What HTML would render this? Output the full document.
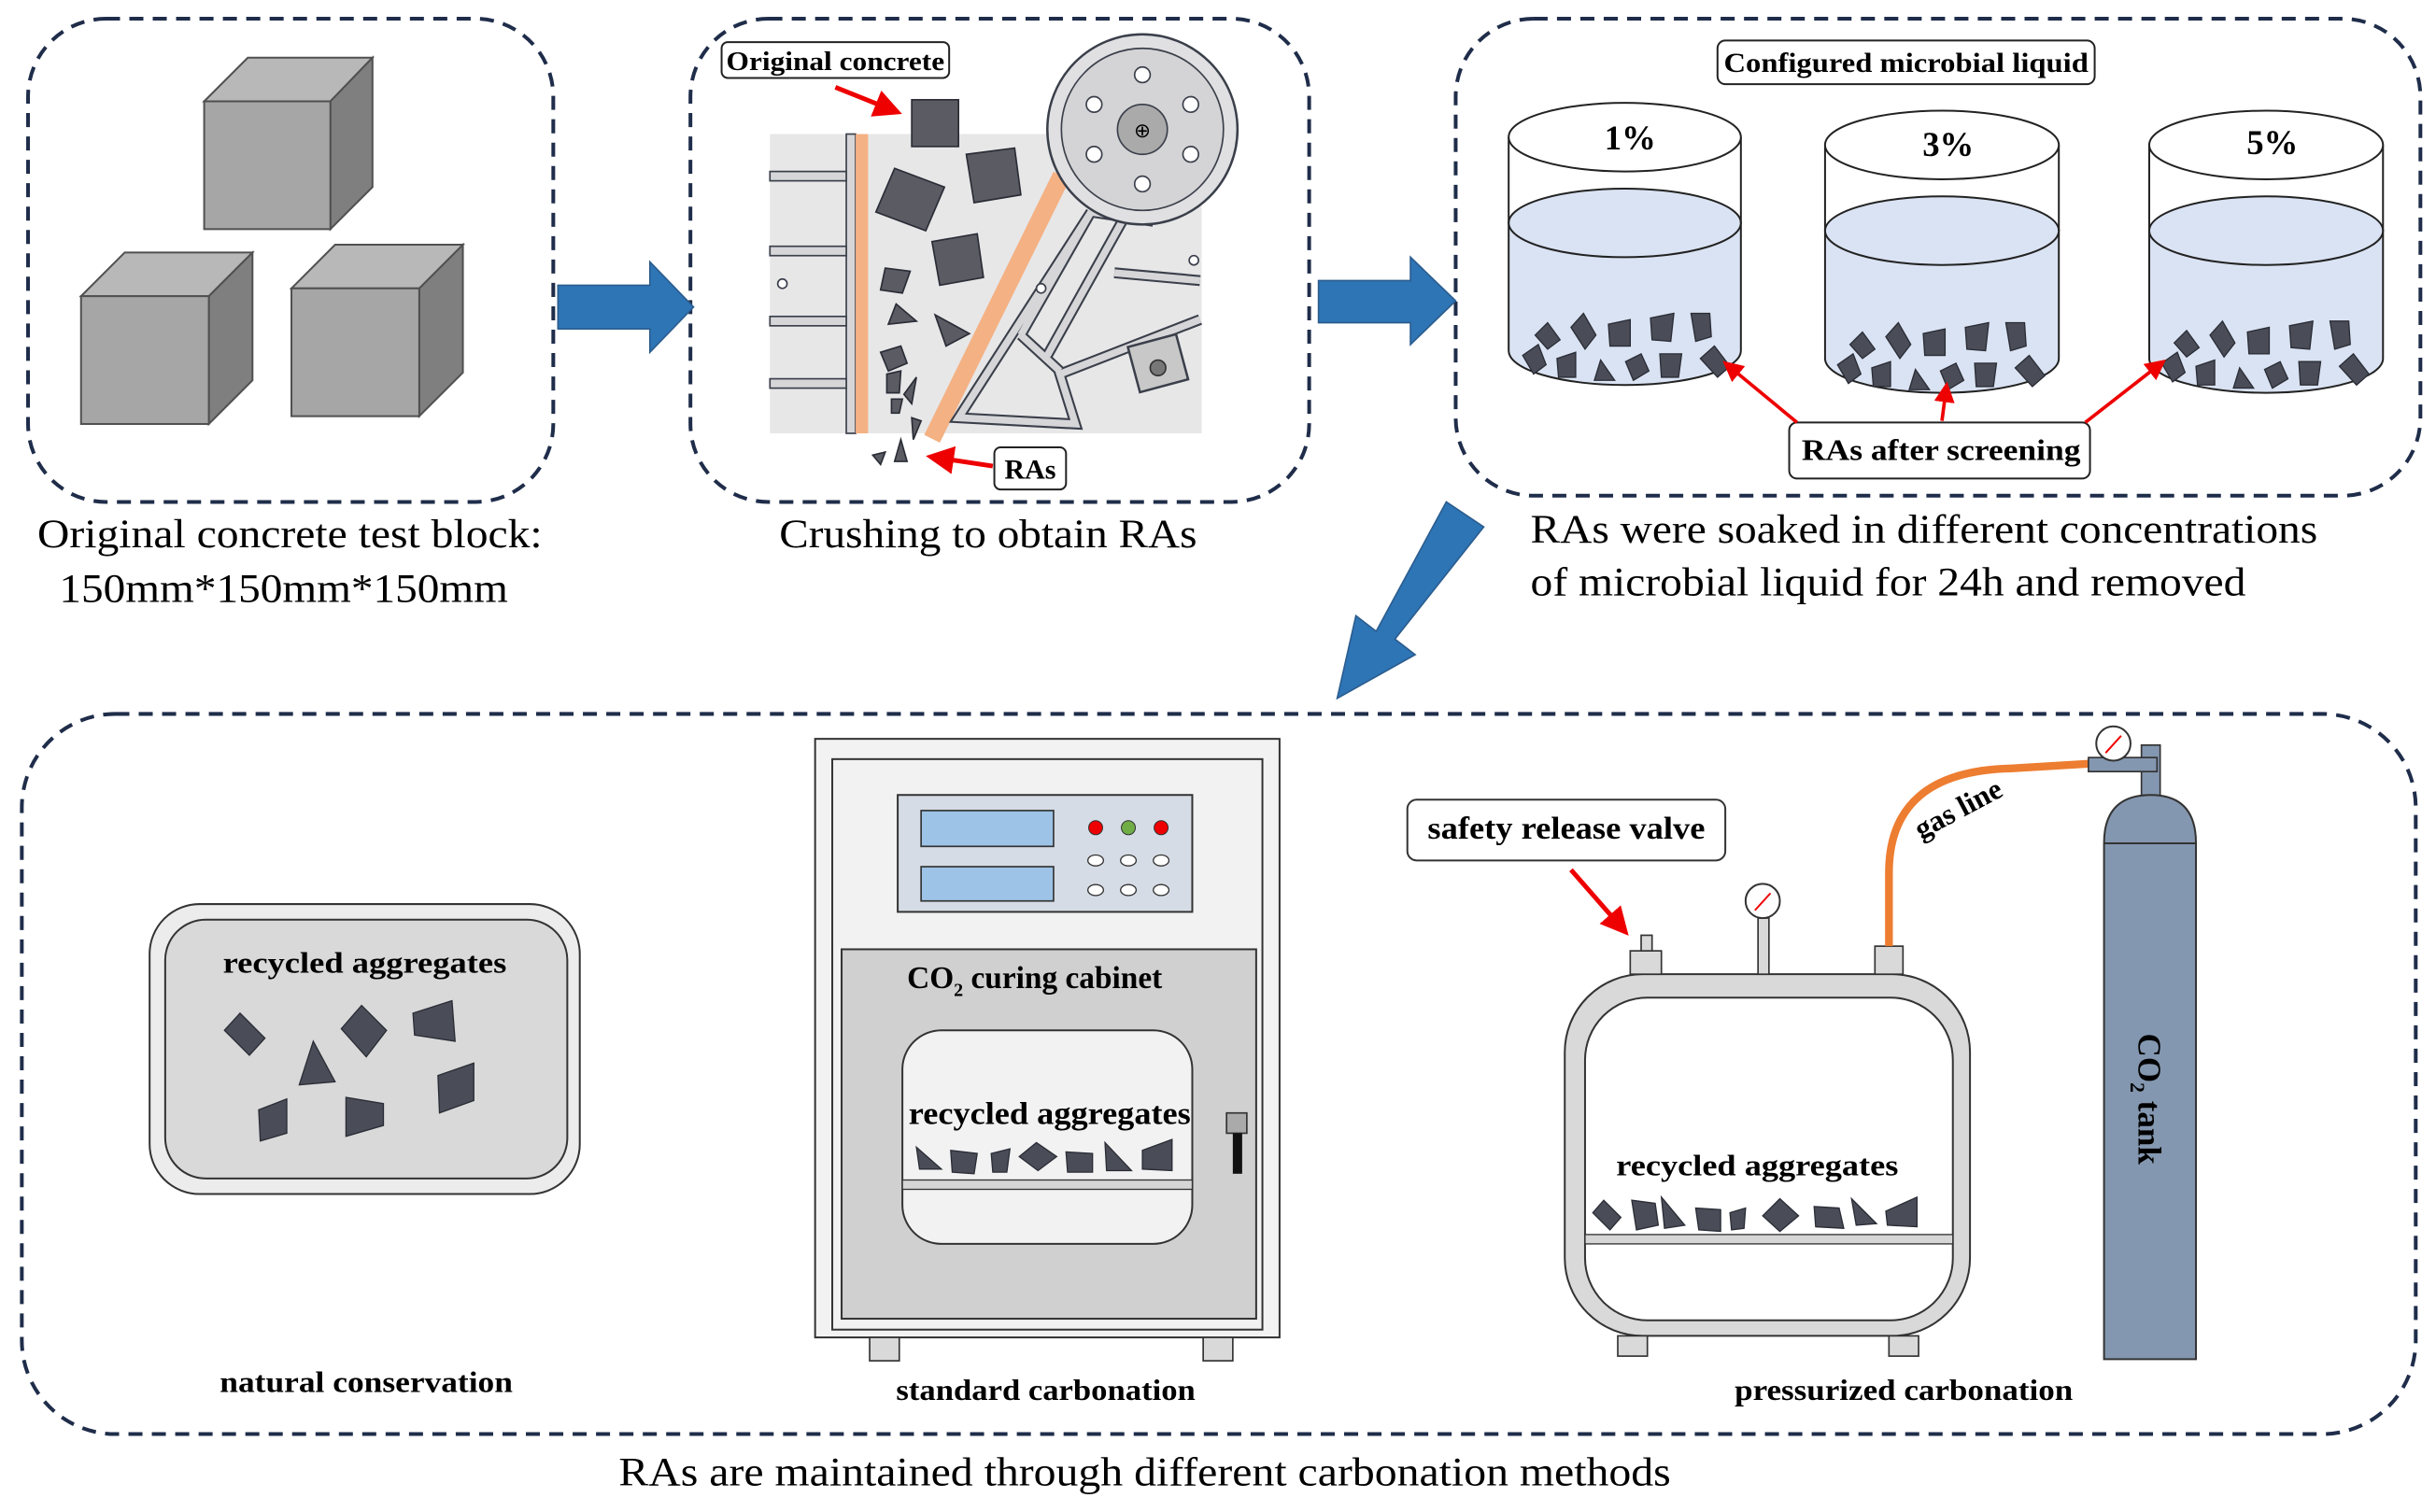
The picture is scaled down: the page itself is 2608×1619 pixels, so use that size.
<!DOCTYPE html>
<html><head><meta charset="utf-8"><style>
html,body{margin:0;padding:0;background:#fff;}
svg{display:block;}
.s{font-family:"Liberation Serif",serif;}
.b{font-family:"Liberation Serif",serif;font-weight:bold;}
</style></head><body>
<svg width="2608" height="1619" viewBox="0 0 1563 970" preserveAspectRatio="none" xmlns="http://www.w3.org/2000/svg">
<defs>
<marker id="ra" markerWidth="6" markerHeight="6" refX="5" refY="3" orient="auto" markerUnits="strokeWidth"><path d="M0,0 L6,3 L0,6 z" fill="#e00"/></marker>
</defs>
<g fill="none" stroke="#1f2d4a" stroke-width="2.4" stroke-dasharray="9,6">
<rect x="18" y="12" width="337" height="310" rx="50"/>
<rect x="443" y="12" width="397" height="310" rx="50"/>
<rect x="934" y="12" width="619" height="306" rx="50"/>
<rect x="14" y="458" width="1536" height="462" rx="60"/>
</g>
<g stroke="#505050" stroke-width="1.2">
<polygon points="131,65 159,37 239,37 212,65" fill="#b8b8b8"/><polygon points="212,65 239,37 239,120 212,147" fill="#7f7f7f"/><rect x="131" y="65" width="81" height="82" fill="#a6a6a6"/>
<polygon points="52,190 80,162 162,162 134,190" fill="#b8b8b8"/><polygon points="134,190 162,162 162,244 134,272" fill="#7f7f7f"/><rect x="52" y="190" width="82" height="82" fill="#a6a6a6"/>
<polygon points="187,185 215,157 297,157 269,185" fill="#b8b8b8"/><polygon points="269,185 297,157 297,239 269,267" fill="#7f7f7f"/><rect x="187" y="185" width="82" height="82" fill="#a6a6a6"/>
</g>
<polygon points="358,183 417,183 417,168 445,197 417,226 417,211 358,211" fill="#2e75b6" stroke="#2b5d8f" stroke-width="1"/>
<polygon points="846,180 905,180 905,165 934,193 905,221 905,207 846,207" fill="#2e75b6" stroke="#2b5d8f" stroke-width="1"/>
<polygon points="928,322 952,338 895,410 908,420 858,448 870,395 883,405" fill="#2e75b6" stroke="#2b5d8f" stroke-width="1"/>
<!-- crusher -->
<rect x="494" y="86" width="277" height="192" fill="#e7e7e8"/>
<g fill="#d6d6d8" stroke="#3a3f4a" stroke-width="1">
<rect x="543" y="86" width="6" height="192"/>
<rect x="494" y="110" width="49" height="6"/><rect x="494" y="158" width="49" height="6"/><rect x="494" y="203" width="49" height="6"/><rect x="494" y="243" width="49" height="6"/>
</g>
<rect x="549" y="86" width="8" height="192" fill="#f4b183"/>
<polygon points="676,110 686,116 603,284 593,279" fill="#f4b183"/>
<g fill="none" stroke="#3a3f4a" stroke-width="7" stroke-linejoin="miter"><path d="M700,136 L615,268 L690,272 L680,240 L770,205 M680,238 L655,215 M700,136 L740,142 M715,175 L770,180 M720,142 L672,228 M655,215 L700,136"/></g>
<g fill="none" stroke="#d6d6d8" stroke-width="4.5" stroke-linejoin="miter"><path d="M700,136 L615,268 L690,272 L680,240 L770,205 M680,238 L655,215 M700,136 L740,142 M715,175 L770,180 M720,142 L672,228 M655,215 L700,136"/></g>
<rect x="727" y="218" width="32" height="30" fill="#c8c8c8" stroke="#3a3f4a" stroke-width="1.5" transform="rotate(-15 743 233)"/>
<circle cx="743" cy="236" r="5" fill="#777" stroke="#333"/>
<circle cx="733" cy="83" r="61" fill="#e0e0e2" stroke="#3a3f4a" stroke-width="1.5"/>
<circle cx="733" cy="83" r="52" fill="#d4d4d6" stroke="#3a3f4a" stroke-width="1"/>
<circle cx="733" cy="83" r="16" fill="#aaa" stroke="#3a3f4a" stroke-width="1"/>
<text x="733" y="88" text-anchor="middle" font-size="13" class="s">⊕</text>
<g fill="#fff" stroke="#3a3f4a" stroke-width="1"><circle cx="733" cy="48" r="5"/><circle cx="733" cy="118" r="5"/><circle cx="702" cy="67" r="5"/><circle cx="764" cy="67" r="5"/><circle cx="702" cy="99" r="5"/><circle cx="764" cy="99" r="5"/><circle cx="502" cy="182" r="3"/><circle cx="668" cy="185" r="3"/><circle cx="766" cy="167" r="3"/></g>
<g fill="#5b5b63" stroke="#2a2d36" stroke-width="1">
<rect x="585" y="64" width="30" height="30"/>
<polygon points="574,108 606,120 594,148 562,136"/><polygon points="620,99 651,95 655,125 625,130"/><polygon points="598,155 627,150 631,178 603,183"/>
<polygon points="568,172 584,174 579,188 565,186"/><polygon points="575,195 570,208 588,206"/><polygon points="600,202 622,214 607,222"/>
<polygon points="565,226 578,222 582,233 570,238"/><polygon points="569,240 578,238 577,252 569,252"/><polygon points="588,242 585,259 580,253"/>
<polygon points="572,256 579,256 577,265 572,265"/><polygon points="585,268 591,270 586,282"/><polygon points="560,292 568,290 565,298"/><polygon points="578,282 582,296 574,296"/>
</g>
<rect x="463" y="27" width="146" height="23" rx="4" fill="#fff" stroke="#222" stroke-width="1.2"/>
<text x="466" y="45" font-size="17" class="b" textLength="140" lengthAdjust="spacingAndGlyphs">Original concrete</text>
<line x1="536" y1="56" x2="576" y2="72" stroke="#e00" stroke-width="3" marker-end="url(#ra)"/>
<rect x="638" y="287" width="46" height="27" rx="4" fill="#fff" stroke="#222" stroke-width="1.2"/>
<text x="661" y="307" text-anchor="middle" font-size="18" class="b">RAs</text>
<line x1="637" y1="299" x2="597" y2="293" stroke="#e00" stroke-width="3" marker-end="url(#ra)"/>
<!-- captions -->
<text x="24" y="351" font-size="26" class="s" textLength="324" lengthAdjust="spacingAndGlyphs">Original  concrete  test  block:</text>
<text x="38" y="386" font-size="26" class="s" textLength="288" lengthAdjust="spacingAndGlyphs">150mm*150mm*150mm</text>
<text x="500" y="351" font-size="26" class="s" textLength="268" lengthAdjust="spacingAndGlyphs">Crushing  to  obtain  RAs</text>
<text x="982" y="348" font-size="26" class="s" textLength="505" lengthAdjust="spacingAndGlyphs">RAs  were  soaked  in  different  concentrations</text>
<text x="982" y="382" font-size="26" class="s" textLength="459" lengthAdjust="spacingAndGlyphs">of microbial  liquid  for 24h and  removed</text>
<!-- cylinders -->
<g stroke="#222" stroke-width="1.2">
<path d="M968,143 L968,225 A74.5,22 0 0 0 1117,225 L1117,143 Z" fill="#dae3f3"/>
<ellipse cx="1042.5" cy="143" rx="74.5" ry="22" fill="#dae3f3"/>
<path d="M968,88 L968,143 M1117,88 L1117,143" fill="none"/>
<ellipse cx="1042.5" cy="88" rx="74.5" ry="22" fill="#fff"/>
<path d="M1171,148 L1171,230 A75,22 0 0 0 1321,230 L1321,148 Z" fill="#dae3f3"/>
<ellipse cx="1246" cy="148" rx="75" ry="22" fill="#dae3f3"/>
<path d="M1171,93 L1171,148 M1321,93 L1321,148" fill="none"/>
<ellipse cx="1246" cy="93" rx="75" ry="22" fill="#fff"/>
<path d="M1379,148 L1379,230 A75,22 0 0 0 1529,230 L1529,148 Z" fill="#dae3f3"/>
<ellipse cx="1454" cy="148" rx="75" ry="22" fill="#dae3f3"/>
<path d="M1379,93 L1379,148 M1529,93 L1529,148" fill="none"/>
<ellipse cx="1454" cy="93" rx="75" ry="22" fill="#fff"/>
</g>
<g id="fr" fill="#4a4d57" stroke="#2a2d36" stroke-width="0.8">
<polygon points="985,215 993,207 1001,218 993,224"/><polygon points="1008,210 1016,201 1024,215 1017,224"/><polygon points="1032,208 1046,205 1046,222 1033,222"/><polygon points="1059,204 1074,201 1072,219 1060,218"/><polygon points="1085,201 1097,201 1098,216 1088,219"/>
<polygon points="977,228 987,221 992,234 984,240"/><polygon points="999,230 1011,226 1011,242 1000,242"/><polygon points="1027,231 1036,244 1023,244"/><polygon points="1043,232 1053,227 1058,238 1048,244"/><polygon points="1065,227 1079,227 1077,242 1066,242"/><polygon points="1091,230 1100,222 1110,235 1102,242"/>
</g>
<use href="#fr" transform="translate(202,6)"/>
<use href="#fr" transform="translate(410,5)"/>
<text x="1046" y="96" text-anchor="middle" font-size="22" class="b">1%</text>
<text x="1250" y="100" text-anchor="middle" font-size="22" class="b">3%</text>
<text x="1458" y="99" text-anchor="middle" font-size="22" class="b">5%</text>
<rect x="1102" y="26" width="242" height="28" rx="5" fill="#fff" stroke="#222" stroke-width="1.2"/>
<text x="1106" y="46" font-size="18" class="b" textLength="234" lengthAdjust="spacingAndGlyphs">Configured microbial liquid</text>
<rect x="1148" y="271" width="193" height="36" rx="5" fill="#fff" stroke="#222" stroke-width="1.2"/>
<text x="1156" y="295" font-size="19" class="b" textLength="179" lengthAdjust="spacingAndGlyphs">RAs after screening</text>
<g stroke="#e00" stroke-width="2.2" marker-end="url(#ra)"><line x1="1153" y1="271" x2="1107" y2="233"/><line x1="1246" y1="270" x2="1249" y2="247"/><line x1="1338" y1="271" x2="1388" y2="232"/></g>
<!-- tray -->
<rect x="96" y="580" width="276" height="186" rx="32" fill="#ececec" stroke="#333" stroke-width="1.2"/>
<rect x="106" y="590" width="258" height="166" rx="26" fill="#d9d9d9" stroke="#333" stroke-width="1.2"/>
<text x="143" y="624" font-size="19" class="b" textLength="182" lengthAdjust="spacingAndGlyphs">recycled aggregates</text>
<g fill="#4a4d57" stroke="#2a2d36" stroke-width="0.8">
<polygon points="144,661 154,650 170,666 160,677"/><polygon points="192,696 201,668 215,694"/>
<polygon points="219,660 232,645 248,661 235,678"/><polygon points="265,650 290,642 292,668 266,664"/>
<polygon points="166,712 184,705 184,727 167,732"/><polygon points="222,704 246,708 246,722 222,729"/><polygon points="281,690 304,682 304,706 282,714"/>
</g>
<text x="141" y="893" font-size="19" class="b" textLength="188" lengthAdjust="spacingAndGlyphs">natural  conservation</text>
<!-- cabinet -->
<rect x="523" y="474" width="298" height="384" fill="#f2f2f2" stroke="#333" stroke-width="1.2"/>
<rect x="534" y="487" width="276" height="366" fill="#f2f2f2" stroke="#333" stroke-width="1.2"/>
<rect x="576" y="510" width="189" height="75" fill="#d6dce5" stroke="#333" stroke-width="1.2"/>
<rect x="591" y="520" width="85" height="23" fill="#9dc3e6" stroke="#333"/>
<rect x="591" y="556" width="85" height="22" fill="#9dc3e6" stroke="#333"/>
<circle cx="703" cy="531" r="4.5" fill="#e00" stroke="#333" stroke-width="0.6"/><circle cx="724" cy="531" r="4.5" fill="#70ad47" stroke="#333" stroke-width="0.6"/><circle cx="745" cy="531" r="4.5" fill="#e00" stroke="#333" stroke-width="0.6"/>
<g fill="#fff" stroke="#333" stroke-width="0.8"><ellipse cx="703" cy="552" rx="5" ry="3.5"/><ellipse cx="724" cy="552" rx="5" ry="3.5"/><ellipse cx="745" cy="552" rx="5" ry="3.5"/><ellipse cx="703" cy="571" rx="5" ry="3.5"/><ellipse cx="724" cy="571" rx="5" ry="3.5"/><ellipse cx="745" cy="571" rx="5" ry="3.5"/></g>
<rect x="540" y="609" width="266" height="237" fill="#d0d0d0" stroke="#333" stroke-width="1.2"/>
<text x="582" y="634" font-size="20" class="b">CO<tspan font-size="12" dy="5">2</tspan><tspan dy="-5"> curing  cabinet</tspan></text>
<rect x="579" y="661" width="186" height="137" rx="25" fill="#f2f2f2" stroke="#333" stroke-width="1.2"/>
<text x="583" y="721" font-size="20" class="b" textLength="181" lengthAdjust="spacingAndGlyphs">recycled aggregates</text>
<rect x="579" y="757" width="186" height="6" fill="#d6d6d6" stroke="#333" stroke-width="0.8"/>
<g fill="#4a4d57" stroke="#2a2d36" stroke-width="0.8">
<polygon points="588,736 604,750 590,750"/><polygon points="610,738 627,740 625,753 611,752"/><polygon points="636,740 648,737 646,752 637,752"/><polygon points="654,742 665,733 678,742 666,751"/><polygon points="684,739 701,740 701,752 685,752"/><polygon points="709,733 726,751 710,751"/><polygon points="733,738 752,731 752,751 733,750"/>
</g>
<rect x="787" y="714" width="13" height="13" fill="#aaa" stroke="#333"/><rect x="791" y="727" width="6" height="26" fill="#111"/>
<rect x="558" y="858" width="19" height="15" fill="#d9d9d9" stroke="#333"/><rect x="772" y="858" width="19" height="15" fill="#d9d9d9" stroke="#333"/>
<text x="575" y="898" font-size="19" class="b" textLength="192" lengthAdjust="spacingAndGlyphs">standard  carbonation</text>
<!-- pressure vessel -->
<rect x="1004" y="625" width="260" height="232" rx="50" fill="#d9d9d9" stroke="#333" stroke-width="1.2"/>
<rect x="1017" y="640" width="236" height="207" rx="40" fill="#fff" stroke="#333" stroke-width="1.2"/>
<rect x="1017" y="792" width="236" height="6" fill="#d6d6d6" stroke="#333" stroke-width="0.8"/>
<rect x="1046" y="610" width="20" height="15" fill="#d9d9d9" stroke="#333"/><rect x="1053" y="600" width="7" height="10" fill="#d9d9d9" stroke="#333"/>
<rect x="1128" y="589" width="7" height="36" fill="#d9d9d9" stroke="#333"/>
<circle cx="1131" cy="578" r="11" fill="#fff" stroke="#333" stroke-width="1.2"/><line x1="1126" y1="584" x2="1136" y2="573" stroke="#e00" stroke-width="1.2"/>
<rect x="1203" y="607" width="18" height="18" fill="#d9d9d9" stroke="#333"/>
<rect x="1038" y="857" width="19" height="13" fill="#d9d9d9" stroke="#333"/><rect x="1212" y="857" width="19" height="13" fill="#d9d9d9" stroke="#333"/>
<text x="1037" y="754" font-size="19" class="b" textLength="181" lengthAdjust="spacingAndGlyphs">recycled aggregates</text>
<g fill="#4a4d57" stroke="#2a2d36" stroke-width="0.8">
<polygon points="1022,778 1029,770 1040,781 1033,789"/><polygon points="1047,770 1062,772 1064,786 1050,789"/><polygon points="1066,768 1081,786 1068,788"/><polygon points="1088,775 1104,776 1104,790 1090,789"/><polygon points="1110,778 1120,775 1119,788 1111,789"/><polygon points="1131,780 1142,769 1154,780 1142,790"/><polygon points="1164,774 1180,775 1183,788 1165,787"/><polygon points="1188,769 1204,785 1191,786"/><polygon points="1210,777 1230,768 1230,787 1211,786"/>
</g>
<rect x="903" y="513" width="204" height="39" rx="6" fill="#fff" stroke="#333" stroke-width="1.2"/>
<text x="916" y="538" font-size="20" class="b" textLength="178" lengthAdjust="spacingAndGlyphs">safety release valve</text>
<line x1="1008" y1="558" x2="1043" y2="598" stroke="#e00" stroke-width="3" marker-end="url(#ra)"/>
<path d="M1212,607 L1212,560 Q1212,495 1290,493 L1340,490" fill="none" stroke="#ed7d31" stroke-width="5"/>
<text x="1257" y="525" text-anchor="middle" font-size="19" class="b" transform="rotate(-28 1257 520)">gas line</text>
<!-- tank -->
<rect x="1374" y="478" width="12" height="36" fill="#8497b0" stroke="#333"/>
<rect x="1340" y="486" width="44" height="9" fill="#8497b0" stroke="#333"/>
<circle cx="1356" cy="477" r="11" fill="#fff" stroke="#333" stroke-width="1.2"/><line x1="1351" y1="483" x2="1361" y2="472" stroke="#e00" stroke-width="1.2"/>
<path d="M1350,541 Q1350,510 1380,510 Q1409,510 1409,541 L1409,872 L1350,872 Z" fill="#8497b0" stroke="#333" stroke-width="1.2"/>
<line x1="1350" y1="541" x2="1409" y2="541" stroke="#333" stroke-width="1.2"/>
<text x="1379" y="705" text-anchor="middle" font-size="21" class="b" transform="rotate(90 1379 705)" dy="7">CO<tspan font-size="13" dy="5">2</tspan><tspan dy="-5"> tank</tspan></text>
<text x="1113" y="898" font-size="19" class="b" textLength="217" lengthAdjust="spacingAndGlyphs">pressurized  carbonation</text>
<text x="397" y="953" font-size="26" class="s" textLength="675" lengthAdjust="spacingAndGlyphs">RAs are maintained  through  different  carbonation  methods</text>
</svg>
</body></html>
